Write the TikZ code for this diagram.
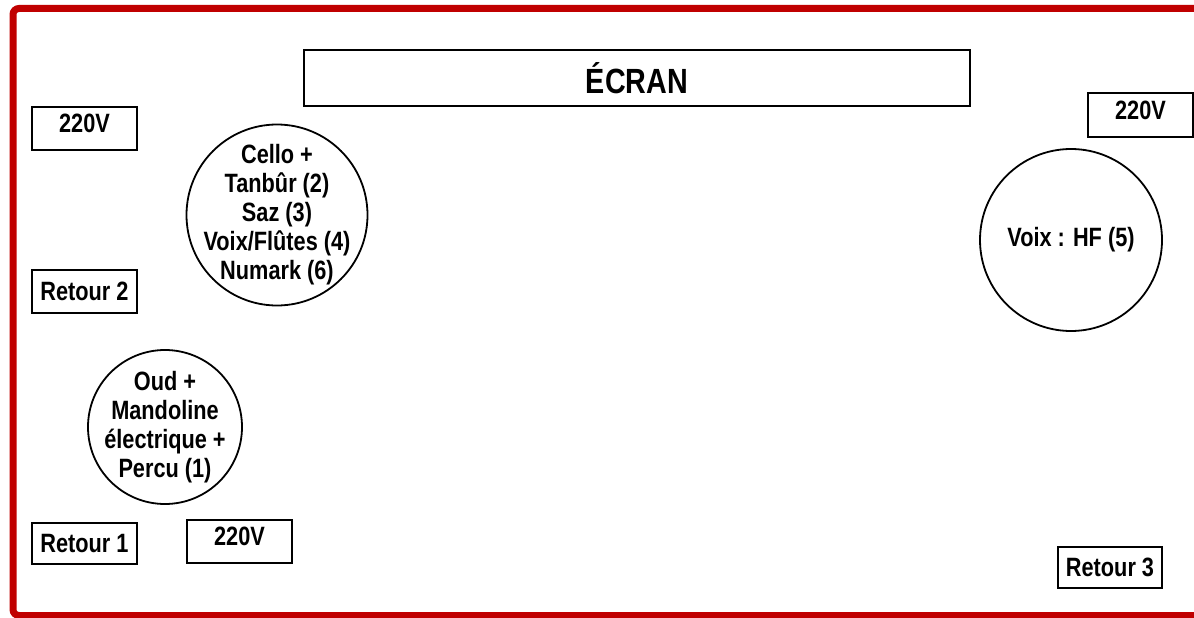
\documentclass[tikz,border=0pt]{standalone}
\usepackage{fontspec}
\setmainfont{Liberation Sans}[FakeStretch=0.82]
\definecolor{rougecadre}{RGB}{192,0,0}
\tikzset{
  boite/.style={draw, line width=2pt, minimum width=105pt, minimum height=43pt,
    inner sep=0pt, font=\bfseries\fontsize{26.5}{29}\selectfont},
  prise/.style={boite, text depth=10pt},
  poste/.style={draw, circle, line width=1.8pt, inner sep=0pt},
  texteposte/.style={align=center, font=\bfseries\fontsize{26.5}{29}\selectfont},
}
\begin{document}
\begin{tikzpicture}[x=1pt,y=-1pt]
    \useasboundingbox (0,0) rectangle (1194,618);
    % cadre de la scène
    \draw[rougecadre, line width=7pt, rounded corners=6pt]
        (1194,8.5) -- (13,8.5) -- (13,615.5) -- (1194,615.5);

    % écran
    \node[boite, minimum width=666pt, minimum height=55pt,
        font=\bfseries\fontsize{35}{40}\selectfont] (ecran) at (637,78) {ÉCRAN};

    % prises et retours
    \node[prise] (prisehg) at (84.5,128.5) {220V};
    \node[prise, minimum height=44pt] (prisehd) at (1140.5,115) {220V};
    \node[boite] (retourdeux) at (84.5,291) {Retour 2};
    \node[boite, minimum height=41pt] (retourun) at (84.5,543.5) {Retour 1};
    \node[prise] (prisebas) at (239.5,541.5) {220V};
    \node[boite, minimum width=104pt, minimum height=41pt] (retourtrois) at (1110,567.5) {Retour 3};

    % postes des musiciens
    \node[poste, minimum size=181pt,
        label={[texteposte]center:{Cello +\\Tanbûr (2)\\Saz (3)\\Voix/Flûtes (4)\\Numark (6)}}]
        (cordes) at (277,215) {};
    \node[poste, minimum size=154pt,
        label={[texteposte]center:{Oud +\\Mandoline\\électrique +\\Percu (1)}}]
        (oud) at (165,427) {};
    \node[poste, minimum size=182pt,
        label={[texteposte]center:{Voix : HF (5)}}]
        (voix) at (1071,240) {};
\end{tikzpicture}
\end{document}
